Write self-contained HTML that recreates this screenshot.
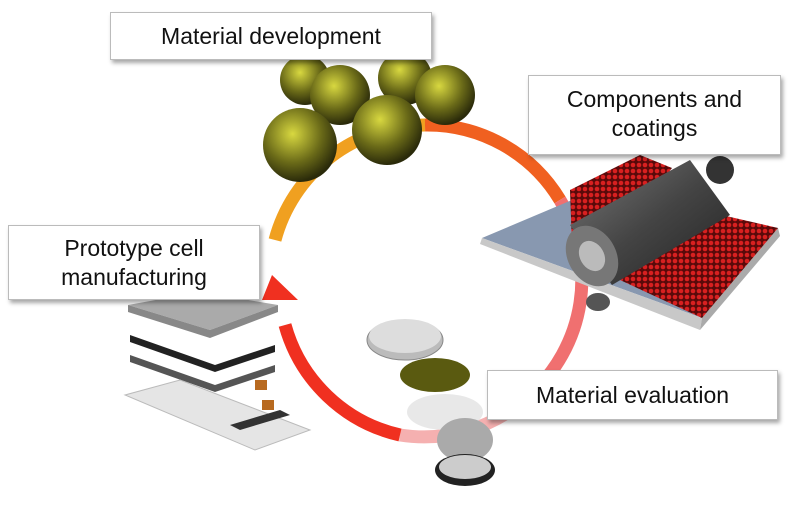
<!DOCTYPE html>
<html><head><meta charset="utf-8"><style>
html,body{margin:0;padding:0;background:#fff;}
.wrap{position:relative;width:800px;height:510px;overflow:hidden;font-family:"Liberation Sans",sans-serif;}
.lbl{position:absolute;background:#fff;border:1px solid #bbb;box-shadow:2px 3px 4px rgba(0,0,0,0.35);color:#111;font-size:23px;text-align:center;line-height:29px;box-sizing:border-box;}
</style></head><body><div class="wrap">
<svg width="800" height="510" style="position:absolute;left:0;top:0">
<defs>
<radialGradient id="ball" cx="0.4" cy="0.35" r="0.65"><stop offset="0" stop-color="#d8d840"/><stop offset="0.6" stop-color="#6a6a18"/><stop offset="1" stop-color="#2a2a0a"/></radialGradient>
<linearGradient id="cyl" x1="0" y1="0" x2="1" y2="1"><stop offset="0" stop-color="#777"/><stop offset="0.5" stop-color="#444"/><stop offset="1" stop-color="#222"/></linearGradient>
<pattern id="red" width="6" height="6" patternUnits="userSpaceOnUse"><rect width="6" height="6" fill="#5a0a0a"/><circle cx="3" cy="3" r="2.3" fill="#d82020"/></pattern>
</defs>
<!-- ring -->
<path d="M275 240 A155 155 0 0 1 425 125" stroke="#f0a020" stroke-width="13" fill="none"/>
<path d="M425 125 A155 155 0 0 1 560 200" stroke="#f06020" stroke-width="13" fill="none"/>
<path d="M560 200 A155 155 0 0 1 530 395" stroke="#f07070" stroke-width="13" fill="none"/>
<path d="M530 395 A155 155 0 0 1 400 435" stroke="#f5b0b0" stroke-width="13" fill="none"/>
<path d="M400 435 A155 155 0 0 1 285 325" stroke="#f03020" stroke-width="13" fill="none"/>
<polygon points="262,300 272,275 298,300" fill="#f03020"/>
<!-- balls -->
<g>
<circle cx="305" cy="80" r="25" fill="url(#ball)"/>
<circle cx="405" cy="78" r="27" fill="url(#ball)"/>
<circle cx="445" cy="95" r="30" fill="url(#ball)"/>
<circle cx="340" cy="95" r="30" fill="url(#ball)"/>
<circle cx="300" cy="145" r="37" fill="url(#ball)"/>
<circle cx="387" cy="130" r="35" fill="url(#ball)"/>
</g>
<!-- roller assembly -->
<polygon points="482,238 572,200 778,228 702,318" fill="#8898b0"/>
<polygon points="482,238 702,318 700,330 480,244" fill="#c8c8c8"/>
<polygon points="702,318 778,228 780,236 700,330" fill="#aaa"/>
<polygon points="570,190 640,155 672,168 600,260 572,245" fill="url(#red)"/>
<polygon points="620,280 700,210 778,228 702,318" fill="url(#red)"/>
<polygon points="570,225 690,160 730,215 612,285" fill="url(#cyl)"/>
<circle cx="720" cy="170" r="14" fill="#333"/>
<ellipse cx="592" cy="256" rx="24" ry="32" fill="#777" transform="rotate(-30 592 256)"/>
<ellipse cx="592" cy="256" rx="12" ry="16" fill="#bbb" transform="rotate(-30 592 256)"/>
<ellipse cx="598" cy="302" rx="12" ry="9" fill="#555"/>
<!-- coin cells -->
<ellipse cx="405" cy="340" rx="38" ry="20" fill="#bbb" stroke="#888"/>
<ellipse cx="405" cy="336" rx="36" ry="17" fill="#ddd"/>
<ellipse cx="435" cy="375" rx="35" ry="17" fill="#5a5a10"/>
<ellipse cx="445" cy="412" rx="38" ry="18" fill="#e8e8e8"/>
<ellipse cx="465" cy="440" rx="28" ry="22" fill="#aaa"/>
<ellipse cx="465" cy="470" rx="30" ry="16" fill="#222"/>
<ellipse cx="465" cy="467" rx="26" ry="12" fill="#ccc"/>
<!-- layers -->
<polygon points="128,305 200,292 278,305 210,330" fill="#aaa"/>
<polygon points="128,312 210,338 278,312 278,305 210,330 128,305" fill="#888"/>
<polygon points="130,335 215,365 275,345 275,352 215,372 130,342" fill="#222"/>
<polygon points="130,355 215,385 275,365 275,372 215,392 130,362" fill="#555"/>
<polygon points="125,395 180,380 310,430 255,450" fill="#e5e5e5" stroke="#bbb"/>
<rect x="255" y="380" width="12" height="10" fill="#b86a20"/>
<rect x="262" y="400" width="12" height="10" fill="#b86a20"/>
<polygon points="230,425 280,410 290,415 240,430" fill="#333"/>
</svg>
<div class="lbl" style="left:110px;top:12px;width:322px;height:48px;line-height:46px">Material development</div>
<div class="lbl" style="left:528px;top:75px;width:253px;height:80px;padding-top:9px">Components and<br>coatings</div>
<div class="lbl" style="left:8px;top:225px;width:252px;height:75px;padding-top:8px">Prototype cell<br>manufacturing</div>
<div class="lbl" style="left:487px;top:370px;width:291px;height:50px;line-height:48px">Material evaluation</div>
</div></body></html>
